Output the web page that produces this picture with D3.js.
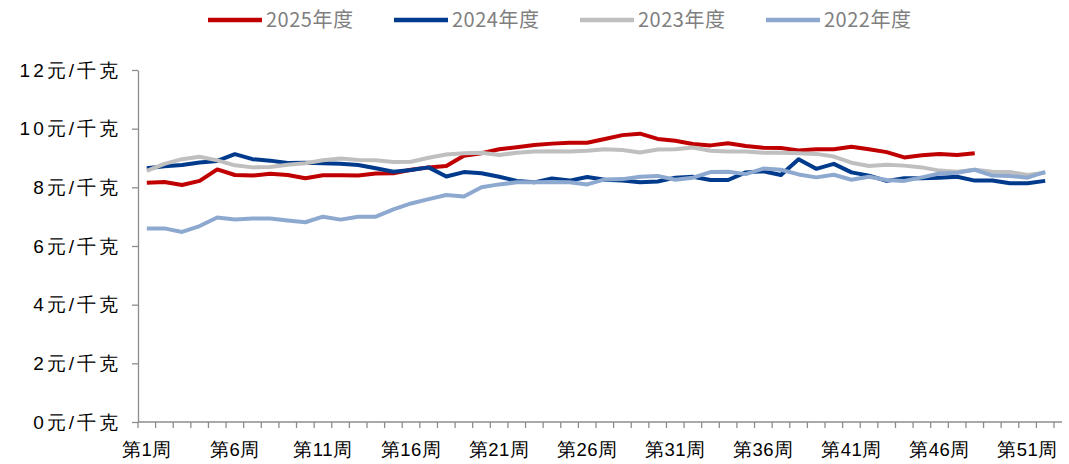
<!DOCTYPE html>
<html>
<head>
<meta charset="utf-8">
<script src="https://cdn.jsdelivr.net/npm/d3@7"></script>
<style>
  body { margin: 0; background: #fff; }
  svg { display: block; font-family: "Noto Sans CJK SC", "Noto Sans", sans-serif; }
</style>
</head>
<body>
<svg id="chart" width="1069" height="464"></svg>
<script>
// 每周价格，元/千克
var weeks = d3.range(1, 53);
var seriesNames = ["2025年度", "2024年度", "2023年度", "2022年度"];
var seriesColors = ["#C00000", "#003A8C", "#BFBFBF", "#8EA9CF"];

var v2025 = [8.16, 8.18, 8.08, 8.22, 8.61, 8.42, 8.40, 8.46, 8.42, 8.31,
             8.41, 8.41, 8.40, 8.47, 8.48, 8.60, 8.68, 8.73, 9.08, 9.16,
             9.30, 9.37, 9.44, 9.49, 9.52, 9.52, 9.65, 9.78, 9.83, 9.65,
             9.59, 9.48, 9.43, 9.50, 9.41, 9.35, 9.34, 9.26, 9.30, 9.30,
             9.38, 9.30, 9.20, 9.02, 9.09, 9.14, 9.10, 9.16];
var v2024 = [8.65, 8.72, 8.76, 8.85, 8.90, 9.13, 8.96, 8.91, 8.83, 8.84,
             8.82, 8.80, 8.76, 8.65, 8.53, 8.59, 8.68, 8.37, 8.52, 8.48,
             8.36, 8.22, 8.17, 8.30, 8.23, 8.35, 8.26, 8.23, 8.17, 8.20,
             8.33, 8.36, 8.25, 8.25, 8.51, 8.55, 8.42, 8.96, 8.63, 8.80,
             8.51, 8.40, 8.22, 8.31, 8.31, 8.33, 8.36, 8.23, 8.23, 8.14,
             8.14, 8.22];
var v2023 = [8.56, 8.80, 8.96, 9.04, 8.92, 8.75, 8.68, 8.69, 8.77, 8.82,
             8.92, 8.98, 8.93, 8.92, 8.86, 8.87, 9.01, 9.12, 9.16, 9.18,
             9.10, 9.18, 9.22, 9.23, 9.22, 9.25, 9.30, 9.27, 9.19, 9.29,
             9.30, 9.36, 9.25, 9.22, 9.22, 9.18, 9.18, 9.16, 9.14, 9.05,
             8.84, 8.73, 8.77, 8.74, 8.68, 8.57, 8.53, 8.60, 8.53, 8.52,
             8.42, 8.50];
var v2022 = [6.60, 6.60, 6.48, 6.68, 6.97, 6.90, 6.94, 6.94, 6.87, 6.81,
             7.00, 6.90, 7.00, 7.00, 7.25, 7.45, 7.60, 7.74, 7.69, 8.00,
             8.10, 8.17, 8.17, 8.18, 8.17, 8.10, 8.27, 8.28, 8.36, 8.39,
             8.26, 8.33, 8.52, 8.53, 8.45, 8.64, 8.60, 8.44, 8.34, 8.43,
             8.26, 8.36, 8.25, 8.22, 8.34, 8.47, 8.50, 8.60, 8.40, 8.39,
             8.33, 8.53];
var yTicks = [0, 2, 4, 6, 8, 10, 12];
var xLabelWeeks = [1, 6, 11, 16, 21, 26, 31, 36, 41, 46, 51];

var allValues = [v2025, v2024, v2023, v2022];

var svg = d3.select("#chart");
var axisColor = "#8C8C8C";

var x = d3.scaleBand().domain(weeks).range([138, 1054]);
var y = d3.scaleLinear().domain([0, 12]).range([422, 70]);

// y axis
var yAxis = svg.append("g")
    .attr("transform", "translate(138,0)")
    .call(d3.axisLeft(y).tickValues(yTicks).tickSize(6).tickSizeOuter(0).tickPadding(11)
        .tickFormat(function(d){ return d + "元/千克"; }));
yAxis.selectAll("path, line").attr("stroke", axisColor).attr("stroke-width", 1.3);
yAxis.selectAll("text")
    .attr("fill", "#000")
    .style("font-size", "19px")
    .style("letter-spacing", "3px");

// x axis: labels at band centres, tick marks on band edges
var xAxis = svg.append("g")
    .attr("transform", "translate(0,422)")
    .call(d3.axisBottom(x).tickValues(xLabelWeeks).tickSize(0).tickPadding(21)
        .tickFormat(function(d){ return "第" + d + "周"; }));
xAxis.select(".domain").remove();
xAxis.selectAll("text")
    .attr("fill", "#000")
    .style("font-size", "18.5px")
    .style("letter-spacing", "0.5px");

svg.append("line")
    .attr("x1", x.range()[0]).attr("x2", x.range()[1] + 8)
    .attr("y1", y(0)).attr("y2", y(0))
    .attr("stroke", axisColor).attr("stroke-width", 1.3);

var edges = weeks.map(function(w){ return x(w); }).concat([x.range()[1]]);
svg.append("g").selectAll("line")
    .data(edges)
    .join("line")
    .attr("x1", function(d){ return d; })
    .attr("x2", function(d){ return d; })
    .attr("y1", y(0))
    .attr("y2", y(0) + 6)
    .attr("stroke", axisColor)
    .attr("stroke-width", 1.3);

// lines
var line = d3.line()
    .x(function(d, i){ return x(weeks[i]) + x.bandwidth() / 2; })
    .y(function(d){ return y(d); });

allValues.forEach(function(vals, i){
    svg.append("path")
        .datum(vals)
        .attr("d", line)
        .attr("fill", "none")
        .attr("stroke", seriesColors[i])
        .attr("stroke-width", 4)
        .attr("stroke-linejoin", "round");
});

// legend
var legend = svg.append("g").selectAll("g")
    .data(seriesNames)
    .join("g")
    .attr("transform", function(d, i){ return "translate(" + (208 + i * 186) + ",20)"; });
legend.append("line")
    .attr("x1", 0).attr("x2", 54)
    .attr("stroke", function(d, i){ return seriesColors[i]; })
    .attr("stroke-width", 4.5);
legend.append("text")
    .attr("x", 58)
    .attr("dy", "0.35em")
    .attr("fill", "#7F7F7F")
    .style("font-size", "20px")
    .style("letter-spacing", "0.5px")
    .text(function(d){ return d; });
</script>
</body>
</html>
